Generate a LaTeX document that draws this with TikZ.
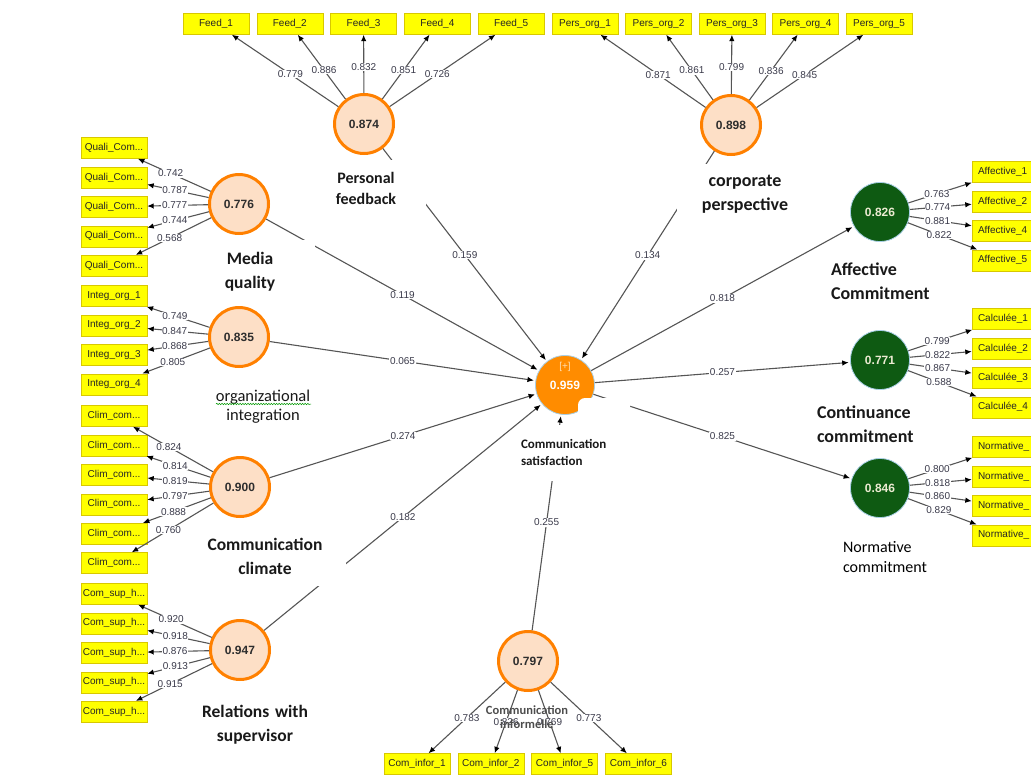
\documentclass[tikz,border=0pt]{standalone}
\usepackage{fontspec}
\setmainfont{Liberation Sans}
\newfontfamily\calibri{Carlito}
\usetikzlibrary{arrows.meta, decorations.pathmorphing}

\definecolor{indfill}{HTML}{FFFF00}
\definecolor{inddraw}{HTML}{D8C800}
\definecolor{lvfill}{HTML}{FDDFC6}
\definecolor{lvdraw}{HTML}{FF8000}
\definecolor{satfill}{HTML}{FF8C00}
\definecolor{satlight}{HTML}{FFDDB0}
\definecolor{lvgreenfill}{HTML}{0E5A12}
\definecolor{ringblue}{HTML}{A8CFE6}
\definecolor{linegray}{HTML}{555555}
\definecolor{numgray}{HTML}{3A3A4A}
\definecolor{lighttext}{HTML}{ECEBD2}

\begin{document}
\begin{tikzpicture}[x=1pt, y=-1pt, node distance=29.4pt]
\tikzstyle{box} = [rectangle, draw=inddraw, fill=indfill, minimum width=66pt,
                   minimum height=21pt, inner sep=1pt, text=black!85,
                   font=\fontsize{10}{12}\selectfont]
\tikzstyle{rbox} = [box, inner xsep=6pt, text width=54pt, align=left]
\tikzstyle{lv} = [circle, draw=lvdraw, line width=3pt, fill=lvfill, minimum size=59pt,
                  inner sep=0pt, text=black!82, font=\bfseries\fontsize{12}{14}\selectfont]
\tikzstyle{lvsat} = [lv, draw=ringblue, line width=0.8pt, fill=satfill, text=white]
\tikzstyle{lvgreen} = [lv, draw=ringblue, line width=0.8pt, fill=lvgreenfill, text=lighttext]
\tikzstyle{lvname} = [fill=white, inner xsep=0pt, align=center, text=black!90,
                      font=\calibri\bfseries\fontsize{17.5}{24}\selectfont]
\tikzstyle{coef} = [fill=white, inner sep=0.6pt, text=numgray, font=\fontsize{10}{11}\selectfont]
\tikzstyle{load} = [draw=linegray, line width=1.1pt, -{Latex[length=6.5pt, width=5.5pt, color=black]}]
\tikzstyle{conn} = [load, shorten >=1.5pt]

\useasboundingbox (0,0) rectangle (1031,774);
\clip (0,0) rectangle (1031,774);

% latent variables
\node[lvsat, label={[text=satlight, font=\fontsize{10}{11}\selectfont, label distance=-20pt]above:{[+]}}] (sat) at (565,385) {0.959};
\node[lv] (fb) at (364,124) {0.874};
\node[lv] (co) at (731,125) {0.898};
\node[lv] (mq) at (239,204) {0.776};
\node[lv] (ig) at (239,337) {0.835};
\node[lv] (cc) at (240,487) {0.900};
\node[lv] (rs) at (240,650) {0.947};
\node[lv] (ci) at (528,661) {0.797};
\node[lvgreen] (ac) at (880,212) {0.826};
\node[lvgreen] (cn) at (880,360) {0.771};
\node[lvgreen] (nc) at (880,488) {0.846};

% indicators, top
\node[box] (feed1) at (216,24) {Feed\_1};
\node[box, right of=feed1, xshift=44.4pt] (feed2) {Feed\_2};
\node[box, right of=feed2, xshift=44.4pt] (feed3) {Feed\_3};
\node[box, right of=feed3, xshift=44.4pt] (feed4) {Feed\_4};
\node[box, right of=feed4, xshift=44.4pt] (feed5) {Feed\_5};
\node[box] (pers1) at (585,24) {Pers\_org\_1};
\node[box, right of=pers1, xshift=44.1pt] (pers2) {Pers\_org\_2};
\node[box, right of=pers2, xshift=44.1pt] (pers3) {Pers\_org\_3};
\node[box, right of=pers3, xshift=44.1pt] (pers4) {Pers\_org\_4};
\node[box, right of=pers4, xshift=44.1pt] (pers5) {Pers\_org\_5};

% indicators, left
\node[box] (qual1) at (114,148) {Quali\_Com...};
\node[box, below of=qual1] (qual2) {Quali\_Com...};
\node[box, below of=qual2] (qual3) {Quali\_Com...};
\node[box, below of=qual3] (qual4) {Quali\_Com...};
\node[box, below of=qual4] (qual5) {Quali\_Com...};
\node[box] (integ1) at (114,296) {Integ\_org\_1};
\node[box, below of=integ1] (integ2) {Integ\_org\_2};
\node[box, below of=integ2] (integ3) {Integ\_org\_3};
\node[box, below of=integ3] (integ4) {Integ\_org\_4};
\node[box] (clim1) at (114,416) {Clim\_com...};
\node[box, below of=clim1] (clim2) {Clim\_com...};
\node[box, below of=clim2] (clim3) {Clim\_com...};
\node[box, below of=clim3] (clim4) {Clim\_com...};
\node[box, below of=clim4] (clim5) {Clim\_com...};
\node[box, below of=clim5] (clim6) {Clim\_com...};
\node[box] (sup1) at (114,594) {Com\_sup\_h...};
\node[box, below of=sup1] (sup2) {Com\_sup\_h...};
\node[box, below of=sup2] (sup3) {Com\_sup\_h...};
\node[box, below of=sup3] (sup4) {Com\_sup\_h...};
\node[box, below of=sup4] (sup5) {Com\_sup\_h...};

% indicators, right
\node[rbox] (aff1) at (1005,172) {Affective\_1};
\node[rbox, below of=aff1] (aff2) {Affective\_2};
\node[rbox, below of=aff2] (aff3) {Affective\_4};
\node[rbox, below of=aff3] (aff4) {Affective\_5};
\node[rbox] (calc1) at (1005,319) {Calculée\_1};
\node[rbox, below of=calc1] (calc2) {Calculée\_2};
\node[rbox, below of=calc2] (calc3) {Calculée\_3};
\node[rbox, below of=calc3] (calc4) {Calculée\_4};
\node[rbox] (norm1) at (1005,447) {Normative\_};
\node[rbox, below of=norm1] (norm2) {Normative\_};
\node[rbox, below of=norm2] (norm3) {Normative\_};
\node[rbox, below of=norm3] (norm4) {Normative\_};

% indicators, bottom
\node[box] (infor1) at (417,764) {Com\_infor\_1};
\node[box, right of=infor1, xshift=44.4pt] (infor2) {Com\_infor\_2};
\node[box, right of=infor2, xshift=44.4pt] (infor3) {Com\_infor\_5};
\node[box, right of=infor3, xshift=44.4pt] (infor4) {Com\_infor\_6};

% loadings
\draw[load] (fb) -- node[coef, pos=.45] {0.779} (feed1);
\draw[load] (fb) -- node[coef, pos=.45] {0.886} (feed2);
\draw[load] (fb) -- node[coef, pos=.45] {0.832} (feed3);
\draw[load] (fb) -- node[coef, pos=.45] {0.851} (feed4);
\draw[load] (fb) -- node[coef, pos=.45] {0.726} (feed5);
\draw[load] (co) -- node[coef, pos=.45] {0.871} (pers1);
\draw[load] (co) -- node[coef, pos=.45] {0.861} (pers2);
\draw[load] (co) -- node[coef, pos=.45] {0.799} (pers3);
\draw[load] (co) -- node[coef, pos=.45] {0.836} (pers4);
\draw[load] (co) -- node[coef, pos=.45] {0.845} (pers5);
\draw[load] (mq) -- node[coef, pos=.55] {0.742} (qual1);
\draw[load] (mq) -- node[coef, pos=.55] {0.787} (qual2);
\draw[load] (mq) -- node[coef, pos=.55] {0.777} (qual3);
\draw[load] (mq) -- node[coef, pos=.55] {0.744} (qual4);
\draw[load] (mq) -- node[coef, pos=.55] {0.568} (qual5);
\draw[load] (ig) -- node[coef, pos=.55] {0.749} (integ1);
\draw[load] (ig) -- node[coef, pos=.55] {0.847} (integ2);
\draw[load] (ig) -- node[coef, pos=.55] {0.868} (integ3);
\draw[load] (ig) -- node[coef, pos=.55] {0.805} (integ4);
\draw[load] (cc) -- node[coef, pos=.55] {0.824} (clim1);
\draw[load] (cc) -- node[coef, pos=.55] {0.814} (clim2);
\draw[load] (cc) -- node[coef, pos=.55] {0.819} (clim3);
\draw[load] (cc) -- node[coef, pos=.55] {0.797} (clim4);
\draw[load] (cc) -- node[coef, pos=.55] {0.888} (clim5);
\draw[load] (cc) -- node[coef, pos=.55] {0.760} (clim6);
\draw[load] (rs) -- node[coef, pos=.55] {0.920} (sup1);
\draw[load] (rs) -- node[coef, pos=.55] {0.918} (sup2);
\draw[load] (rs) -- node[coef, pos=.55] {0.876} (sup3);
\draw[load] (rs) -- node[coef, pos=.55] {0.913} (sup4);
\draw[load] (rs) -- node[coef, pos=.55] {0.915} (sup5);
\draw[load] (ac) -- node[coef, pos=.45] {0.763} (aff1);
\draw[load] (ac) -- node[coef, pos=.45] {0.774} (aff2);
\draw[load] (ac) -- node[coef, pos=.45] {0.881} (aff3);
\draw[load] (ac) -- node[coef, pos=.45] {0.822} (aff4);
\draw[load] (cn) -- node[coef, pos=.45] {0.799} (calc1);
\draw[load] (cn) -- node[coef, pos=.45] {0.822} (calc2);
\draw[load] (cn) -- node[coef, pos=.45] {0.867} (calc3);
\draw[load] (cn) -- node[coef, pos=.45] {0.588} (calc4);
\draw[load] (nc) -- node[coef, pos=.45] {0.800} (norm1);
\draw[load] (nc) -- node[coef, pos=.45] {0.818} (norm2);
\draw[load] (nc) -- node[coef, pos=.45] {0.860} (norm3);
\draw[load] (nc) -- node[coef, pos=.45] {0.829} (norm4);
\draw[load] (ci) -- node[coef, pos=.5] {0.783} (infor1);
\draw[load] (ci) -- node[coef, pos=.5] {0.826} (infor2);
\draw[load] (ci) -- node[coef, pos=.5] {0.769} (infor3);
\draw[load] (ci) -- node[coef, pos=.5] {0.773} (infor4);

% paths
\draw[conn] (fb) -- node[coef] {0.159} (sat);
\draw[conn] (co) -- node[coef] {0.134} (sat);
\draw[conn] (mq) -- node[coef] {0.119} (sat);
\draw[conn] (ig) -- node[coef] {0.065} (sat);
\draw[conn] (cc) -- node[coef] {0.274} (sat);
\draw[conn] (rs) -- node[coef] {0.182} (sat);
\draw[conn] (ci) -- node[coef] {0.255} (sat);
\draw[conn] (sat) -- node[coef] {0.818} (ac);
\draw[conn] (sat) -- node[coef] {0.257} (cn);
\draw[conn] (sat) -- node[coef] {0.825} (nc);

\fill[white, rounded corners=7pt] (578,398) rectangle (630,428);

% construct names
\node[lvname, text width=119pt, minimum height=56pt, font=\calibri\bfseries\fontsize{16}{21}\selectfont,
      below of=fb, xshift=2pt, yshift=-34.6pt] (fbname) {Personal\\feedback};
\node[lvname, text width=136pt, minimum height=60pt, font=\calibri\bfseries\fontsize{18}{24}\selectfont,
      below of=co, xshift=14pt, yshift=-39.6pt] (coname) {corporate\\perspective};
\node[lvname, text width=130pt, minimum height=64pt, below of=mq, xshift=11pt, yshift=-38.6pt] (mqname) {Media\\quality};
\node[lvname, text width=120pt, minimum height=56pt, font=\calibri\fontsize{16.5}{19}\selectfont,
      below of=ig, xshift=24pt, yshift=-40.1pt] (igname) {organizational\\integration};
\node[lvname, text width=162pt, minimum height=60pt, below of=cc, xshift=25pt, yshift=-39.6pt] (ccname) {Communication\\climate};
\node[lvname, text width=140pt, minimum height=60pt, below of=rs, xshift=15pt, yshift=-45.1pt] (rsname) {Relations with\\supervisor};
\node[lvname, text width=104pt, align=left, font=\calibri\bfseries\fontsize{18}{24}\selectfont,
      below of=ac, xshift=3pt, yshift=-39.6pt] (acname) {Affective\\Commitment};
\node[lvname, text width=100pt, align=left, font=\calibri\bfseries\fontsize{18}{24}\selectfont,
      below of=cn, xshift=-13pt, yshift=-34.6pt] (cnname) {Continuance\\commitment};
\node[lvname, text width=85pt, align=left, text=black, font=\calibri\fontsize{16}{20}\selectfont,
      below of=nc, xshift=5.5pt, yshift=-39.6pt] (ncname) {Normative\\commitment};
\node[lvname, text width=105pt, minimum height=56pt, align=left, font=\calibri\bfseries\fontsize{13}{17}\selectfont,
      below of=sat, xshift=8.5pt, yshift=-38.1pt] (satname) {Communication\\satisfaction};
\node[lvname, fill=none, text=black!70, font=\calibri\bfseries\fontsize{12.5}{14}\selectfont,
      below of=ci, xshift=-1pt, yshift=-26.6pt] (ciname) {Communication\\informelle};

\draw[green!60!black, line width=0.5pt, decorate, decoration={snake, amplitude=0.7pt, segment length=2.6pt}]
  (216,404) -- (311,404);
\end{tikzpicture}
\end{document}
